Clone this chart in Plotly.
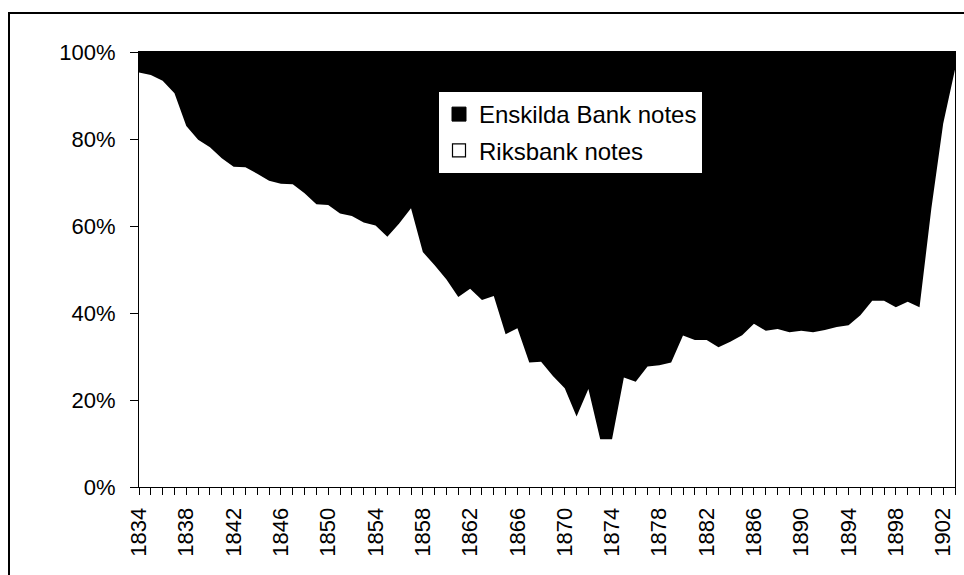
import plotly.graph_objects as go

years = list(range(1834, 1904))
riksbank_share = [
    95.3, 94.7, 93.4, 90.5, 83.0, 79.8, 78.1, 75.6, 73.6, 73.5,
    72.0, 70.4, 69.7, 69.6, 67.5, 65.0, 64.8, 62.9, 62.3, 60.8,
    60.1, 57.5, 60.6, 64.1, 54.0, 51.0, 47.7, 43.7, 45.6, 43.0,
    43.9, 35.1, 36.5, 28.6, 28.8, 25.5, 22.7, 16.2, 22.5, 11.0,
    11.0, 25.2, 24.2, 27.7, 28.0, 28.6, 34.8, 33.8, 33.8, 32.1,
    33.4, 34.9, 37.5, 35.9, 36.3, 35.6, 35.9, 35.6, 36.1, 36.8,
    37.2, 39.5, 42.8, 42.8, 41.3, 42.6, 41.3, 64.0, 83.5, 96.0,
]
enskilda_share = [round(100 - v, 1) for v in riksbank_share]
series_names = ["Enskilda Bank notes", "Riksbank notes"]
y_tick_vals = [0, 20, 40, 60, 80, 100]
y_tick_text = ["0%", "20%", "40%", "60%", "80%", "100%"]
x_tick_vals = list(range(1834, 1904, 4))

FONT = "Liberation Sans, Arial, sans-serif"

fig = go.Figure()
fig.add_trace(go.Scatter(
    x=years, y=riksbank_share, name=series_names[1], mode="lines",
    stackgroup="one", line=dict(color="white", width=0),
    fillcolor="white", showlegend=False, hoverinfo="x+y"))
fig.add_trace(go.Scatter(
    x=years, y=enskilda_share, name=series_names[0], mode="lines",
    stackgroup="one", line=dict(color="black", width=0),
    fillcolor="black", showlegend=False, hoverinfo="x+y"))

# legend proxies (square symbols)
fig.add_trace(go.Scatter(
    x=[None], y=[None], mode="markers", name=series_names[0],
    legendgroup="a",
    marker=dict(symbol="square", size=14, color="black",
                line=dict(color="black", width=1))))
fig.add_trace(go.Scatter(
    x=[None], y=[None], mode="markers", name=series_names[1],
    legendgroup="b",
    marker=dict(symbol="square", size=13, color="white",
                line=dict(color="black", width=1.2))))

W, H = 964, 575
L, R, T, B = 139, 955, 52, 487
pw, ph = R - L, B - T

def px_x(x):
    return (x - L) / pw

def px_y(y):
    return (B - y) / ph

fig.update_layout(
    width=W, height=H,
    margin=dict(l=L, r=W - R, t=T, b=H - B, pad=0),
    paper_bgcolor="white", plot_bgcolor="white",
    font=dict(family=FONT, size=22, color="black"),
    showlegend=True,
    legend=dict(
        x=px_x(439), y=px_y(92), xanchor="left", yanchor="top",
        bgcolor="white", borderwidth=0,
        font=dict(family=FONT, size=24, color="black"),
        traceorder="grouped", tracegroupgap=2,
        itemsizing="trace",
    ),
    xaxis=dict(
        range=[1834, 1903], tickmode="array", tickvals=x_tick_vals,
        ticktext=[str(v) for v in x_tick_vals], tickangle=-90,
        ticks="outside", ticklen=7, tickwidth=1, tickcolor="black",
        ticklabelstandoff=4,
        showline=True, linecolor="black", linewidth=1, mirror=True,
        showgrid=False, zeroline=False,
        minor=dict(dtick=1, tick0=1834, ticks="outside", ticklen=7,
                   tickwidth=1, tickcolor="black", showgrid=False),
        tickfont=dict(family=FONT, size=22, color="black"),
    ),
    yaxis=dict(
        range=[0, 100], tickmode="array", tickvals=y_tick_vals,
        ticktext=y_tick_text, ticks="outside", ticklen=8, tickwidth=1,
        ticklabelstandoff=10,
        tickcolor="black", showline=True, linecolor="black", linewidth=1,
        mirror=True, showgrid=False, zeroline=False,
        tickfont=dict(family=FONT, size=22, color="black"),
    ),
    shapes=[
        dict(type="rect", xref="paper", yref="paper",
             x0=px_x(9), x1=px_x(975), y0=px_y(590), y1=px_y(13),
             line=dict(color="black", width=2), fillcolor="rgba(0,0,0,0)",
             layer="above"),
    ],
)

fig.write_html(
    "out.html",
    config={"displayModeBar": False},
    post_script="document.body.style.margin='0';document.body.style.overflow='hidden';",
)
